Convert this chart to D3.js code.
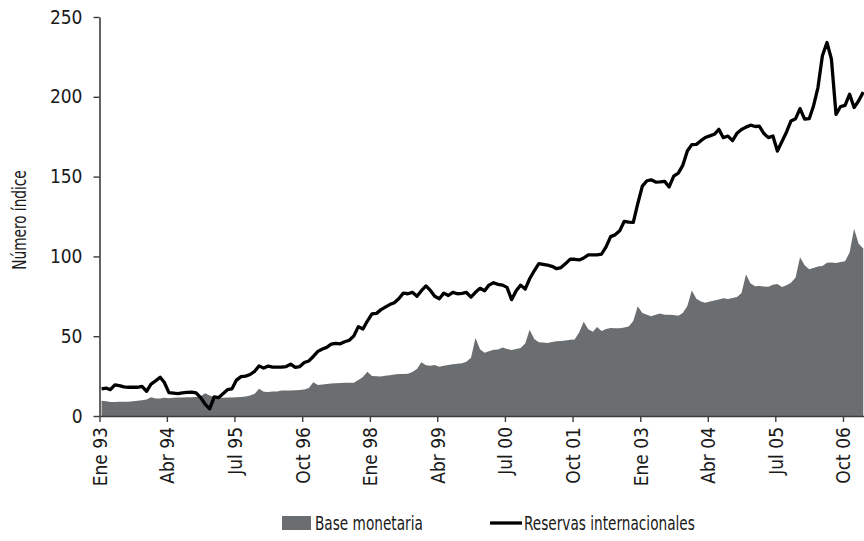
<!DOCTYPE html>
<html>
<head>
<meta charset="utf-8">
<script src="https://cdn.jsdelivr.net/npm/d3@7"></script>
<style>
  html, body { margin: 0; padding: 0; background: #fff; }
  svg { display: block; }
  text {
    font-family: "Liberation Sans Narrow", "DejaVu Sans Condensed", "Roboto Condensed", sans-serif;
    fill: #1a1a1a;
  }
</style>
</head>
<body>
<svg id="chart" width="864" height="541"></svg>
<script>
// series names, in legend order
const seriesNames = ['Base monetaria', 'Reservas internacionales'];

const monthNames = ['Ene', 'Feb', 'Mar', 'Abr', 'May', 'Jun', 'Jul', 'Ago', 'Sep', 'Oct', 'Nov', 'Dic'];
const startYear = 1993;

// monthly index values, Ene 93 .. Feb 07 (one line per year)
const baseMonetaria = [
  9.6, 9.2, 8.7, 8.8, 8.9, 9, 9, 9.2, 9.5, 9.8, 10.3, 11.8,
  11, 11, 11.4, 11.2, 11.4, 11.6, 11.6, 11.7, 11.8, 11.9, 12.3, 14.2,
  12.8, 12, 11.6, 11.5, 11.6, 11.6, 11.7, 11.9, 12.2, 12.8, 14, 17,
  15.2, 15, 15.3, 15.4, 15.9, 16, 16, 16.2, 16.3, 16.6, 17.5, 21.2,
  19.5, 19.8, 20, 20.3, 20.5, 20.7, 20.9, 20.8, 20.8, 22.5, 24.5, 27.8,
  25.1, 24.9, 24.7, 25.2, 25.6, 26, 26.3, 26.3, 26.4, 27.5, 29.5, 33.7,
  31.8, 31.5, 32, 30.8, 31.5, 32, 32.4, 32.8, 33, 34, 36.5, 48.8,
  41.8, 39.6, 40.5, 41.5, 41.7, 42.9, 42, 41.4, 42, 42.6, 45.5, 54,
  48.2, 46.2, 46, 45.7, 46.3, 46.8, 47, 47.3, 47.8, 48, 52.5, 59,
  54.3, 52.8, 55.8, 53.2, 54.5, 55.1, 55, 55, 55.5, 56, 59.5, 68.7,
  64.5, 63.4, 62.5, 63.4, 64.3, 63.5, 63.5, 63.3, 62.8, 64.5, 69, 78.7,
  73.5, 71.8, 70.9, 71.7, 72.3, 73, 73.8, 73.3, 74, 74.6, 77, 88.6,
  83, 81.3, 81.5, 81.2, 81, 82.3, 82.7, 80.8, 82, 83.5, 86.8, 99.5,
  94.5, 92, 92.8, 93.7, 94, 96, 96.2, 95.9, 96.5, 97, 102.5, 117.3,
  108, 105
];

const reservasInternacionales = [
  17, 17.5, 16.5, 19.5, 19, 18.3, 18, 18, 18, 18.5, 15.5, 20,
  22, 24.3, 21, 14.6, 14.3, 14, 14.5, 14.8, 15, 14.5, 11.5, 7.5,
  4.5, 12, 11.5, 14, 16.5, 17, 22.5, 24.7, 25, 26, 28, 31.4,
  30, 31.3, 30.6, 30.6, 30.6, 31, 32.5, 30.5, 31, 33.5, 34.5, 37.3,
  40.5, 42, 43, 45, 45.5, 45.2, 46.5, 47.5, 50.2, 56, 54.5, 59.5,
  64, 64.3, 66.5, 68.2, 69.8, 71, 73.5, 77, 76.6, 77.5, 75, 78.5,
  81.5, 78.5, 75, 73.5, 77, 75.5, 77.5, 76.6, 76.8, 77.4, 74.5, 77.5,
  80, 78.5, 82, 83.5, 82.5, 82, 80.6, 72.9, 78.5, 82, 79.5, 86,
  91, 95.5, 95, 94.5, 93.8, 92.3, 93, 95.5, 98.3, 98.2, 97.8, 99,
  101, 101, 101, 101.5, 106, 112.4, 113.5, 116, 122, 121.5, 121.3, 133,
  144, 147.4, 148, 146.6, 146.7, 147, 143.5, 150.3, 152.2, 157, 166, 170,
  170.2, 172.5, 174.5, 175.5, 176.5, 179.6, 174.4, 175.4, 172.5, 177.1, 179.5, 181,
  182.2, 181.4, 181.6, 177, 174.4, 175.4, 166, 172, 178, 184.9, 186.3, 192.6,
  186, 186.3, 193.9, 205.8, 225.7, 234, 223.6, 189, 193.9, 194.6, 201.6, 193.3,
  197.5, 203
];

const yTicks = [0, 50, 100, 150, 200, 250];
const xTickLabels = ['Ene 93', 'Abr 94', 'Jul 95', 'Oct 96', 'Ene 98', 'Abr 99',
  'Jul 00', 'Oct 01', 'Ene 03', 'Abr 04', 'Jul 05', 'Oct 06'];
const yLabel = 'Número índice';

const svg = d3.select('#chart');
const axisColor = '#3c3c3c';
const areaColor = '#6b6e70';
// the source face is a tight condensed one, squeeze the free text a bit
const squeeze = 'scale(0.8,1)';

// "Abr 94" -> first day of that month
function parseTick(label) {
  const [mon, yy] = label.split(' ');
  return new Date(1900 + (+yy < 50 ? 100 : 0) + +yy, monthNames.indexOf(mon), 1);
}

// monthly points are placed mid-month, ticks sit on the first of the month
function toPoints(values) {
  return values.map((v, i) => ({ date: new Date(startYear, i, 15), value: v }));
}

const baseData = toPoints(baseMonetaria);
const reservasData = toPoints(reservasInternacionales);

const x = d3.scaleTime()
  .domain([new Date(startYear, 0, 1), new Date(2007, 1, 20)])
  .range([99.5, 864]);

const y = d3.scaleLinear()
  .domain([0, 250])
  .range([416, 17]);

// filled series first, line on top
svg.append('path')
  .datum(baseData)
  .attr('fill', areaColor)
  .attr('d', d3.area()
    .x(d => x(d.date))
    .y0(y(0))
    .y1(d => y(d.value)));

svg.append('path')
  .datum(reservasData)
  .attr('fill', 'none')
  .attr('stroke', '#000')
  .attr('stroke-width', 3.3)
  .attr('stroke-linejoin', 'round')
  .attr('d', d3.line()
    .x(d => x(d.date))
    .y(d => y(d.value)));

// y axis
const yAxis = svg.append('g')
  .attr('transform', `translate(${x.range()[0]},0)`)
  .call(d3.axisLeft(y).tickValues(yTicks).tickSize(6).tickSizeOuter(0).tickPadding(11));

// x axis, labels turned to read bottom-up
const xAxis = svg.append('g')
  .attr('transform', `translate(0,${y(0)})`)
  .call(d3.axisBottom(x)
    .tickValues(xTickLabels.map(parseTick))
    .tickFormat((d, i) => xTickLabels[i])
    .tickSize(6)
    .tickSizeOuter(0));

xAxis.selectAll('.tick text')
  .attr('transform', 'rotate(-90)')
  .attr('x', -11)
  .attr('y', 0)
  .attr('dy', '0.36em')
  .style('text-anchor', 'end');

[xAxis, yAxis].forEach(g => {
  g.select('.domain').attr('stroke', axisColor).attr('stroke-width', 1.6);
  g.selectAll('.tick line').attr('stroke', axisColor).attr('stroke-width', 1.4);
  g.selectAll('.tick text').attr('fill', '#1a1a1a').style('font-size', '19px');
});

svg.append('text')
  .attr('transform', `translate(26,220) rotate(-90) ${squeeze}`)
  .attr('text-anchor', 'middle')
  .style('font-size', '19px')
  .text(yLabel);

// legend: swatch for the area, short stroke for the line
const legend = svg.append('g').style('font-size', '19px');

legend.append('rect')
  .attr('x', 282).attr('y', 516)
  .attr('width', 29).attr('height', 14)
  .attr('fill', areaColor);

legend.append('text')
  .attr('transform', `translate(315,530) ${squeeze}`)
  .text(seriesNames[0]);

legend.append('line')
  .attr('x1', 490).attr('x2', 522)
  .attr('y1', 523).attr('y2', 523)
  .attr('stroke', '#000')
  .attr('stroke-width', 3.3);

legend.append('text')
  .attr('transform', `translate(524,530) ${squeeze}`)
  .text(seriesNames[1]);
</script>
</body>
</html>
